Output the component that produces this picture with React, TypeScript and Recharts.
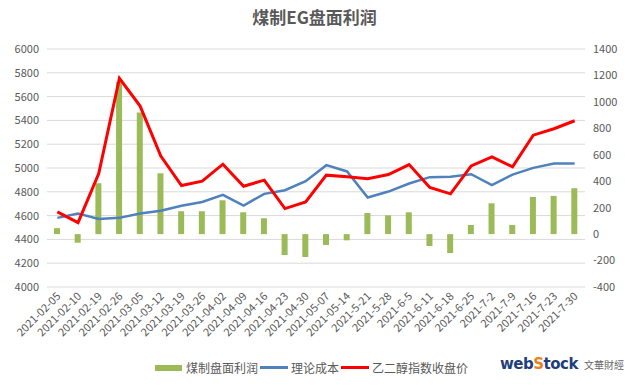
import React from 'react';
import { ComposedChart, Bar, Line, XAxis, YAxis, CartesianGrid, Legend } from 'recharts';

const dates = [
  '2021-02-05', '2021-02-10', '2021-02-19', '2021-02-26', '2021-03-05', '2021-03-12',
  '2021-03-19', '2021-03-26', '2021-04-02', '2021-04-09', '2021-04-16', '2021-04-23',
  '2021-04-30', '2021-05-07', '2021-05-14', '2021-5-21', '2021-5-28', '2021-6-5',
  '2021-6-11', '2021-6-18', '2021-6-25', '2021-7-2', '2021-7-9', '2021-7-16',
  '2021-7-23', '2021-7-30',
];
const profit = [
  45, -65, 385, 1150, 920, 460, 173, 173, 256, 165, 120, -158, -173,
  -82, -47, 160, 142, 165, -90, -143, 69, 233, 69, 281, 289, 347,
];
const cost = [
  4581, 4617, 4572, 4581, 4617, 4640, 4682, 4715, 4774, 4684, 4783, 4813, 4889,
  5024, 4971, 4752, 4802, 4870, 4923, 4926, 4948, 4856, 4945, 5001, 5038, 5038,
];
const price = [
  4631, 4541, 4954, 5753, 5520, 5100, 4853, 4889, 5032, 4847, 4898, 4659, 4715,
  4940, 4926, 4909, 4945, 5029, 4836, 4783, 5018, 5094, 5010, 5276, 5330, 5397,
];
const leftTicks = [4000, 4200, 4400, 4600, 4800, 5000, 5200, 5400, 5600, 5800, 6000];
const rightTicks = [-400, -200, 0, 200, 400, 600, 800, 1000, 1200, 1400];
const legendOrder = ['煤制盘面利润', '理论成本', '乙二醇指数收盘价'];

const data = dates.map((d, i) => ({ date: d, profit: profit[i], cost: cost[i], price: price[i] }));

const FONT = '"Noto Sans CJK SC", "Microsoft YaHei", sans-serif';
const TXT = '#595959';

const XTick = (props: any) => {
  const { x, y, payload } = props;
  return (
    <text
      x={x + 4}
      y={y + 2}
      transform={`rotate(-45, ${x + 4}, ${y + 2})`}
      textAnchor="end"
      fontSize={11}
      fill={TXT}
      fontFamily={FONT}
    >
      {payload.value}
    </text>
  );
};

const LegendContent = (props: any) => {
  const items = [...(props.payload || [])].sort(
    (a: any, b: any) => legendOrder.indexOf(a.value) - legendOrder.indexOf(b.value)
  );
  return (
    <div style={{ display: 'flex', alignItems: 'center', fontFamily: FONT, fontSize: 12, color: TXT, whiteSpace: 'nowrap' }}>
      {items.map((p: any) => (
        <div key={p.value} style={{ display: 'flex', alignItems: 'center', marginRight: 2 }}>
          {p.type === 'rect' ? (
            <span style={{ display: 'inline-block', width: 27, height: 6, background: p.color, marginRight: 4 }} />
          ) : (
            <span style={{ display: 'inline-block', width: 28, height: 3, background: p.color, marginRight: 3 }} />
          )}
          <span>{p.value}</span>
        </div>
      ))}
    </div>
  );
};

export default function App() {
  return (
    <div style={{ position: 'absolute', left: 0, top: 0, width: 625, height: 385, background: '#fff' }}>
      <div
        style={{
          position: 'absolute',
          left: 0,
          width: 625,
          top: 4,
          textAlign: 'center',
          fontFamily: FONT,
          fontSize: 17,
          fontWeight: 'bold',
          color: TXT,
          paddingLeft: 2,
        }}
      >
        煤制EG盘面利润
      </div>
      <ComposedChart
        width={625}
        height={385}
        data={data}
        margin={{ top: 49, right: 0, bottom: 0, left: 0 }}
        barCategoryGap={0}
      >
        <CartesianGrid yAxisId="left" vertical={false} stroke="#d9d9d9" />
        <XAxis
          dataKey="date"
          interval={0}
          tick={<XTick />}
          tickLine={false}
          axisLine={false}
          height={98}
        />
        <YAxis
          yAxisId="left"
          orientation="left"
          domain={[4000, 6000]}
          ticks={leftTicks}
          width={47}
          tickLine={false}
          axisLine={false}
          tick={{ fontSize: 11, fill: TXT, fontFamily: FONT }}
        />
        <YAxis
          yAxisId="right"
          orientation="right"
          domain={[-400, 1400]}
          ticks={rightTicks}
          width={40}
          tickLine={false}
          axisLine={false}
          tick={{ fontSize: 11, fill: TXT, fontFamily: FONT, textAnchor: 'start' }}
        />
        <Bar yAxisId="right" dataKey="profit" name="煤制盘面利润" fill="#9BBB59" barSize={6} isAnimationActive={false} legendType="rect" />
        <Line yAxisId="left" dataKey="cost" name="理论成本" stroke="#4F81BD" strokeWidth={2.5} dot={false} type="linear" isAnimationActive={false} legendType="line" />
        <Line yAxisId="left" dataKey="price" name="乙二醇指数收盘价" stroke="#FF0000" strokeWidth={3} dot={false} type="linear" isAnimationActive={false} legendType="line" />
        <Legend
          layout="horizontal"
          verticalAlign="middle"
          align="center"
          content={<LegendContent />}
          wrapperStyle={{ position: 'absolute', left: 155, top: 359, width: 340, bottom: 'auto', right: 'auto' }}
        />
      </ComposedChart>
      <div style={{ position: 'absolute', left: 500, top: 355, display: 'flex', alignItems: 'center' }}>
        <span style={{ fontFamily: 'Verdana, "DejaVu Sans", sans-serif', fontWeight: 'bold', fontSize: 15, color: '#1F3F7A', letterSpacing: -0.5 }}>
          web<span style={{ color: '#E8821E' }}>S</span>tock
        </span>
        <span style={{ fontFamily: FONT, fontSize: 10, color: '#666', marginLeft: 6 }}>文華財經</span>
      </div>
    </div>
  );
}
